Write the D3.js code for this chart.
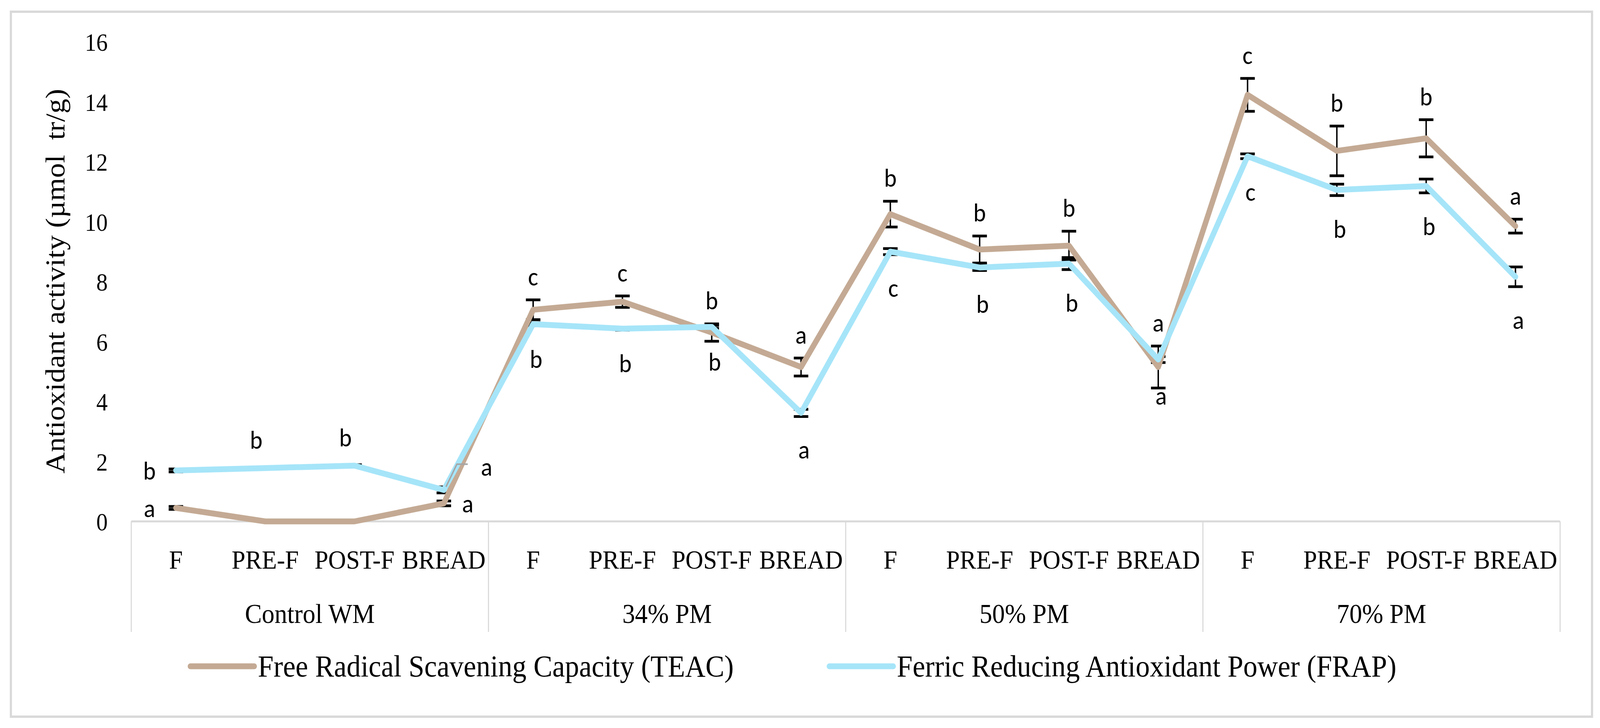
<!DOCTYPE html>
<html>
<head>
<meta charset="utf-8">
<script src="https://cdn.jsdelivr.net/npm/d3@7"></script>
<style>
  html, body { margin: 0; padding: 0; background: #fff; width: 100%; height: 100%; overflow: hidden; }
  svg { display: block; width: 100vw; height: 100vh; }
</style>
</head>
<body>
<script>
const WIDTH = 4412;
const HEIGHT = 1864;

// categories
const groups = ["Control WM", "34% PM", "50% PM", "70% PM"];
const stages = ["F", "PRE-F", "POST-F", "BREAD"];

// series values (µmol tr/g), one per group x stage
const teac = [0.45, 0.0, 0.0, 0.6, 7.06, 7.33, 6.3, 5.15, 10.25, 9.07, 9.2, 5.15, 14.23, 12.36, 12.78, 9.85];
const teacErr = [0.05, 0, 0, 0.08, 0.33, 0.19, 0.29, 0.3, 0.43, 0.45, 0.48, 0.7, 0.55, 0.83, 0.62, 0.23];
const frap = [1.7, 1.78, 1.86, 1.05, 6.58, 6.43, 6.49, 3.62, 9.0, 8.47, 8.6, 5.4, 12.18, 11.06, 11.19, 8.16];
const frapErr = [0.05, 0.03, 0.03, 0.1, 0.05, 0.05, 0.05, 0.12, 0.1, 0.1, 0.2, 0.1, 0.08, 0.19, 0.23, 0.33];

// significance letters ("" = no label)
const teacLetters = ["a", "", "", "a", "c", "c", "b", "a", "b", "b", "b", "a", "c", "b", "b", "a"];
const frapLetters = ["b", "b", "b", "a", "b", "b", "b", "a", "c", "b", "b", "a", "c", "b", "b", "a"];

// y ticks
const yTicks = [0, 2, 4, 6, 8, 10, 12, 14, 16];

const seriesNames = [
  "Free Radical Scavening Capacity (TEAC)",
  "Ferric Reducing Antioxidant Power (FRAP)",
];

const TEAC_COLOR = "#c4aa94";
const FRAP_COLOR = "#a6e5f9";
const SERIF = "'Palatino Linotype', 'Book Antiqua', Palatino, 'Liberation Serif', serif";
const SANS = "Calibri, Lato, 'Open Sans', sans-serif";

const PLOT = { left: 362, right: 4302, top: 107, bottom: 1335 };

// the viewBox is stretched onto the whole window
const svg = d3.select("body")
  .append("svg")
  .attr("xmlns", "http://www.w3.org/2000/svg")
  .attr("viewBox", `0 0 ${WIDTH} ${HEIGHT}`)
  .attr("preserveAspectRatio", "none");

svg.append("rect")
  .attr("width", WIDTH)
  .attr("height", HEIGHT)
  .attr("fill", "#fff");

// outer frame
svg.append("rect")
  .attr("x", 30)
  .attr("y", 30)
  .attr("width", 4360)
  .attr("height", 1805)
  .attr("fill", "none")
  .attr("stroke", "#d9d9d9")
  .attr("stroke-width", 6);

const keys = [];
groups.forEach((g) => stages.forEach((s) => keys.push(`${g}|${s}`)));

const x = d3.scalePoint()
  .domain(keys)
  .range([PLOT.left, PLOT.right])
  .padding(0.5);

const groupX = d3.scaleBand()
  .domain(groups)
  .range([PLOT.left, PLOT.right]);

const y = d3.scaleLinear()
  .domain([0, 16])
  .range([PLOT.bottom, PLOT.top]);

// y axis: labels only, no line, no ticks
const yAxis = svg.append("g")
  .attr("transform", `translate(${PLOT.left - 40},0)`)
  .call(d3.axisLeft(y).tickValues(yTicks).tickSize(0).tickPadding(25));
yAxis.select(".domain").remove();
yAxis.selectAll("text")
  .attr("fill", "#000")
  .attr("font-size", "63px")
  .attr("font-family", SERIF)
  .attr("dy", "0.36em");

svg.append("text")
  .attr("transform", `translate(178,720) rotate(-90)`)
  .attr("text-anchor", "middle")
  .attr("font-size", "76px")
  .attr("font-family", SERIF)
  .attr("fill", "#000")
  .style("white-space", "pre")
  .text("Antioxidant activity (µmol  tr/g)");

// category box
const box = svg.append("g").attr("stroke", "#d9d9d9");
box.append("line")
  .attr("x1", PLOT.left)
  .attr("x2", PLOT.right)
  .attr("y1", PLOT.bottom)
  .attr("y2", PLOT.bottom)
  .attr("stroke-width", 5);
const dividers = groups.map((g) => groupX(g)).concat([PLOT.right]);
box.selectAll("line.div")
  .data(dividers)
  .join("line")
  .attr("class", "div")
  .attr("x1", (d) => d)
  .attr("x2", (d) => d)
  .attr("y1", PLOT.bottom)
  .attr("y2", 1618)
  .attr("stroke-width", 3);

svg.append("g")
  .selectAll("text")
  .data(keys)
  .join("text")
  .attr("x", (d) => x(d))
  .attr("y", 1432)
  .attr("dy", "0.35em")
  .attr("text-anchor", "middle")
  .attr("font-size", "68px")
  .attr("font-family", SERIF)
  .attr("fill", "#000")
  .text((d) => d.split("|")[1]);

svg.append("g")
  .selectAll("text")
  .data(groups)
  .join("text")
  .attr("x", (d) => groupX(d) + groupX.bandwidth() / 2)
  .attr("y", 1571)
  .attr("dy", "0.35em")
  .attr("text-anchor", "middle")
  .attr("font-size", "70px")
  .attr("font-family", SERIF)
  .attr("fill", "#000")
  .text((d) => d);

const series = [
  { values: teac, err: teacErr, letters: teacLetters, color: TEAC_COLOR, side: "above" },
  { values: frap, err: frapErr, letters: frapLetters, color: FRAP_COLOR, side: "below" },
];

// error bars (drawn under the lines, as in the original)
const CAP = 40;
series.forEach((s) => {
  const eb = svg.append("g").attr("stroke", "#000");
  s.values.forEach((v, i) => {
    if (!s.err[i]) return;
    const cx = x(keys[i]);
    const lo = y(Math.max(0, v - s.err[i]));
    const hi = y(v + s.err[i]);
    eb.append("line").attr("x1", cx).attr("x2", cx).attr("y1", lo).attr("y2", hi).attr("stroke-width", 4);
    [lo, hi].forEach((yy) => {
      eb.append("line")
        .attr("x1", cx - CAP / 2)
        .attr("x2", cx + CAP / 2)
        .attr("y1", yy)
        .attr("y2", yy)
        .attr("stroke-width", 7);
    });
  });
});

const line = d3.line()
  .x((d, i) => x(keys[i]))
  .y((d) => y(d));

series.forEach((s) => {
  svg.append("path")
    .datum(s.values)
    .attr("d", line)
    .attr("fill", "none")
    .attr("stroke", s.color)
    .attr("stroke-width", 15)
    .attr("stroke-linejoin", "round")
    .attr("stroke-linecap", "round");
});

// significance letters
function labelPos(s, i) {
  const cx = x(keys[i]);
  const v = s.values[i];
  const e = s.err[i];
  const stage = i % stages.length;
  if (i < stages.length) {
    // control group: labels moved to the sides / above
    if (stage === 0) return [cx - 73, y(v)];
    if (stage === 3) return [cx + (s.side === "above" ? 66 : 118), y(v) + (s.side === "above" ? 0 : -60)];
    return [cx - 25, y(v) - 72];
  }
  if (s.side === "above") return [cx, y(v + e) - 60];
  return [cx + 8, y(v - e) + 85];
}

// grey leader line of the moved control BREAD (FRAP) label
{
  const s = series[1];
  const i = 3;
  const [lx, ly] = labelPos(s, i);
  const px = x(keys[i]);
  const py = y(s.values[i]);
  svg.append("path")
    .attr("d", d3.line()([[px + 6, py - 8], [px + 36, ly - 6], [lx - 52, ly - 6]]))
    .attr("fill", "none")
    .attr("stroke", "#a6a6a6")
    .attr("stroke-width", 4);
}

series.forEach((s) => {
  svg.append("g")
    .selectAll("text")
    .data(s.letters.map((l, i) => ({ l, i })).filter((d) => d.l))
    .join("text")
    .attr("x", (d) => labelPos(s, d.i)[0])
    .attr("y", (d) => labelPos(s, d.i)[1])
    .attr("dy", "0.35em")
    .attr("text-anchor", "middle")
    .attr("font-size", "66px")
    .attr("font-family", SANS)
    .attr("fill", "#000")
    .text((d) => d.l);
});

// legend
const legendItems = [
  { name: seriesNames[0], color: TEAC_COLOR, x: 525 },
  { name: seriesNames[1], color: FRAP_COLOR, x: 2287 },
];
const legend = svg.append("g").attr("transform", "translate(0,1706)");
legend.selectAll("line")
  .data(legendItems)
  .join("line")
  .attr("x1", (d) => d.x)
  .attr("x2", (d) => d.x + 176)
  .attr("y1", 0)
  .attr("y2", 0)
  .attr("stroke", (d) => d.color)
  .attr("stroke-width", 15)
  .attr("stroke-linecap", "round");
legend.selectAll("text")
  .data(legendItems)
  .join("text")
  .attr("x", (d) => d.x + 186)
  .attr("y", 0)
  .attr("dy", "0.33em")
  .attr("font-size", "78px")
  .attr("font-family", SERIF)
  .attr("fill", "#000")
  .text((d) => d.name);
</script>
</body>
</html>
